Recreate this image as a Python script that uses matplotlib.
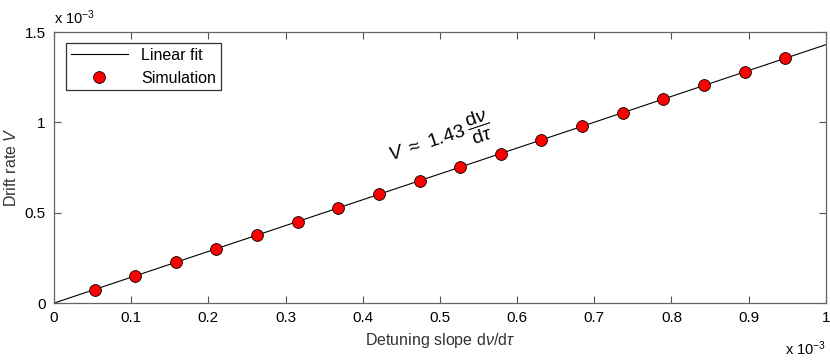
import numpy as np
import matplotlib.pyplot as plt

plt.rcParams['font.family'] = ['Liberation Sans', 'DejaVu Sans']
plt.rcParams['mathtext.fontset'] = 'custom'
plt.rcParams['mathtext.rm'] = 'Liberation Sans'
plt.rcParams['mathtext.it'] = 'Liberation Sans:italic'

# values in units of 1e-3
slope_sim = [0.0526, 0.1053, 0.1579, 0.2105, 0.2632, 0.3158, 0.3684, 0.4211, 0.4737,
             0.5263, 0.5789, 0.6316, 0.6842, 0.7368, 0.7895, 0.8421, 0.8947, 0.9474]
drift_sim = [0.0752, 0.1505, 0.2258, 0.3011, 0.3763, 0.4516, 0.5268, 0.6021, 0.6774,
             0.7526, 0.8279, 0.9032, 0.9784, 1.0537, 1.1289, 1.2042, 1.2795, 1.3547]
fit_x = [0.0, 1.0]
fit_y = [0.0, 1.43]

xticks = [0, 0.1, 0.2, 0.3, 0.4, 0.5, 0.6, 0.7, 0.8, 0.9, 1]
xticklabels = ['0', '0.1', '0.2', '0.3', '0.4', '0.5', '0.6', '0.7', '0.8', '0.9', '1']
yticks = [0, 0.5, 1, 1.5]
yticklabels = ['0', '0.5', '1', '1.5']

fig = plt.figure(figsize=(8.3, 3.6), dpi=100)
ax = fig.add_axes([0.065, 0.158, 0.930, 0.753])

ax.plot(fit_x, fit_y, color='black', linewidth=0.8, label='Linear fit')
ax.plot(slope_sim, drift_sim, 'o', color='red', markeredgecolor='black',
        markeredgewidth=0.6, markersize=8.5, linestyle='none', label='Simulation')

ax.set_xlim(0, 1)
ax.set_ylim(0, 1.5)
ax.set_xticks(xticks)
ax.set_xticklabels(xticklabels)
ax.set_yticks(yticks)
ax.set_yticklabels(yticklabels)
ax.tick_params(direction='in', top=True, right=True, length=5, width=0.8,
               color='#555555', labelsize=11, pad=6)
for s in ax.spines.values():
    s.set_color('#666666')
    s.set_linewidth(0.9)

ax.set_xlabel(r'Detuning slope $\mathrm{d}\nu/\mathrm{d}\tau$', fontsize=11.5, color='#333333')
ax.set_ylabel(r'Drift rate $V$', fontsize=11.5, color='#333333')

ax.text(0, 1.02, r'x 10$^{-3}$', transform=ax.transAxes, fontsize=10.5, ha='left', va='bottom')
ax.text(1.0, -0.135, r'x 10$^{-3}$', transform=ax.transAxes, fontsize=10.5, ha='right', va='top')

ax.text(0.50, 0.905, r'$V\ \approx\ 1.43\;\dfrac{\mathrm{d}\nu}{\mathrm{d}\tau}$',
        fontsize=14, rotation=18.5, ha='center', va='center')

leg = ax.legend(loc='upper left', fontsize=11.5, frameon=True, fancybox=False,
                edgecolor='black', borderpad=0.3, handlelength=3.6,
                bbox_to_anchor=(0.005, 0.99))
leg.get_frame().set_linewidth(0.9)

fig.savefig('out.png', dpi=100)
